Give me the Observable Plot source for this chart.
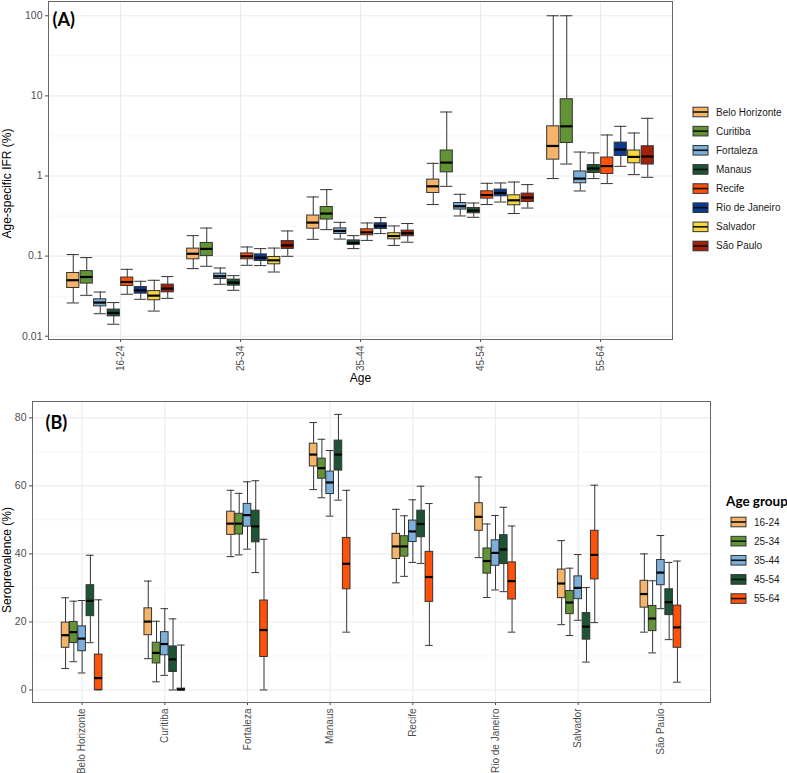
<!DOCTYPE html>
<html><head><meta charset="utf-8">
<script src="https://cdn.jsdelivr.net/npm/d3@7"></script>
<script src="https://cdn.jsdelivr.net/npm/@observablehq/plot@0.6"></script>
<style>
body{margin:0;background:#fff;}
#wrap{position:relative;width:787px;height:773px;overflow:hidden;background:#fff;}
#wrap svg{display:block;}
</style></head><body><div id="wrap"></div>
<script>
// ---------- categories ----------
const ageGroups = ["16-24", "25-34", "35-44", "45-54", "55-64"];
const cities = ["Belo Horizonte", "Curitiba", "Fortaleza", "Manaus", "Recife", "Rio de Janeiro", "Salvador", "São Paulo"];
const cityColors = ["#F6B46A", "#629436", "#7DAFDB", "#1D5434", "#FF5108", "#0C3B94", "#F4D73F", "#A3200C"];
const ageColors = ["#F6B46A", "#629436", "#7DAFDB", "#1D5434", "#FF5108"];

// ---------- Panel A: age-specific IFR (%) ----------
// each row: [lower whisker, Q1, median, Q3, upper whisker], one row per city (order of `cities`)
const ifr16_24 = [
  [0.026, 0.040, 0.050, 0.0615, 0.1045],
  [0.0324, 0.0454, 0.0548, 0.065, 0.0958],
  [0.0191, 0.0236, 0.0263, 0.0289, 0.0356],
  [0.0141, 0.0177, 0.0195, 0.0215, 0.0263],
  [0.0334, 0.0424, 0.0475, 0.054, 0.0684],
  [0.0289, 0.034, 0.0374, 0.0411, 0.0485],
  [0.0206, 0.0281, 0.0321, 0.0366, 0.0499],
  [0.0297, 0.0353, 0.0393, 0.0441, 0.0555]
];
const ifr25_34 = [
  [0.0698, 0.0912, 0.107, 0.124, 0.180],
  [0.0746, 0.100, 0.123, 0.146, 0.224],
  [0.0445, 0.0518, 0.056, 0.0604, 0.071],
  [0.0374, 0.0428, 0.0467, 0.0509, 0.057],
  [0.0768, 0.0912, 0.0994, 0.108, 0.130],
  [0.0761, 0.0869, 0.0958, 0.105, 0.124],
  [0.0633, 0.079, 0.0886, 0.0975, 0.126],
  [0.0994, 0.123, 0.136, 0.154, 0.206]
];
const ifr35_44 = [
  [0.162, 0.220, 0.262, 0.321, 0.547],
  [0.214, 0.286, 0.340, 0.410, 0.676],
  [0.163, 0.189, 0.206, 0.222, 0.264],
  [0.124, 0.138, 0.146, 0.157, 0.180],
  [0.157, 0.182, 0.198, 0.216, 0.259],
  [0.191, 0.218, 0.238, 0.257, 0.303],
  [0.136, 0.162, 0.178, 0.193, 0.238],
  [0.149, 0.177, 0.193, 0.208, 0.255]
];
const ifr45_54 = [
  [0.44, 0.614, 0.743, 0.902, 1.44],
  [0.743, 1.11, 1.47, 2.08, 6.29],
  [0.317, 0.381, 0.419, 0.46, 0.591],
  [0.305, 0.342, 0.37, 0.398, 0.46],
  [0.44, 0.522, 0.579, 0.644, 0.811],
  [0.473, 0.558, 0.614, 0.676, 0.818],
  [0.34, 0.431, 0.497, 0.574, 0.841],
  [0.398, 0.473, 0.537, 0.603, 0.781]
];
const ifr55_64 = [
  [0.928, 1.60, 2.37, 4.17, 100],
  [1.41, 2.58, 4.17, 9.07, 100],
  [0.65, 0.811, 0.928, 1.14, 1.99],
  [0.928, 1.09, 1.24, 1.37, 1.94],
  [0.804, 1.06, 1.33, 1.70, 3.25],
  [1.32, 1.78, 2.14, 2.61, 4.17],
  [1.04, 1.44, 1.73, 2.08, 3.44],
  [0.963, 1.39, 1.75, 2.35, 5.25]
];
const ifrTicks = [0.01, 0.1, 1, 10, 100];
const ifrMinor = [0.03162, 0.3162, 3.162, 31.62];

// ---------- Panel B: seroprevalence (%) ----------
// each row: [lower whisker, Q1, median, Q3, upper whisker], one row per age group
const seroBeloHorizonte = [
  [6.3, 12.4, 16.1, 19.8, 27.1],
  [8.3, 13.8, 17.0, 20.0, 26.1],
  [5.0, 11.4, 15.1, 18.7, 26.3],
  [13.9, 21.7, 26.2, 30.8, 39.6],
  [0, 0, 3.5, 10.4, 26.5]
];
const seroCuritiba = [
  [9.2, 16.1, 20.1, 24.0, 32.0],
  [2.4, 7.8, 10.9, 13.9, 20.2],
  [4.3, 10.2, 13.5, 17.0, 23.9],
  [0, 5.3, 9.0, 12.8, 20.9],
  [0, 0, 0.15, 0.4, 13.2]
];
const seroFortaleza = [
  [39.2, 45.6, 48.9, 52.4, 58.7],
  [39.7, 45.7, 48.9, 51.8, 57.8],
  [41.4, 48.0, 51.4, 54.7, 61.2],
  [34.5, 43.4, 48.1, 52.7, 61.5],
  [0, 9.7, 17.6, 26.3, 44.3]
];
const seroManaus = [
  [58.9, 65.7, 69.2, 72.4, 78.6],
  [56.5, 62.1, 65.2, 68.0, 73.7],
  [51.1, 57.6, 61.0, 64.2, 70.4],
  [55.8, 64.5, 69.2, 73.3, 81.0],
  [17.0, 29.6, 37.1, 44.7, 58.7]
];
const seroRecife = [
  [31.5, 38.5, 42.2, 45.9, 53.1],
  [33.4, 39.2, 42.2, 45.2, 51.2],
  [37.5, 43.5, 46.6, 49.8, 55.9],
  [37.2, 44.9, 48.8, 52.7, 59.9],
  [13.1, 25.9, 33.2, 40.6, 54.8]
];
const seroRioDeJaneiro = [
  [38.9, 46.8, 50.9, 54.9, 62.6],
  [27.2, 34.2, 37.9, 41.6, 48.8],
  [29.4, 36.5, 40.3, 44.0, 51.3],
  [28.9, 37.0, 41.3, 45.5, 53.7],
  [17.0, 26.6, 32.0, 37.5, 48.2]
];
const seroSalvador = [
  [19.2, 27.0, 31.3, 35.4, 43.9],
  [16.0, 22.3, 25.7, 29.1, 35.8],
  [20.5, 26.7, 30.0, 33.4, 39.8],
  [8.2, 14.8, 18.6, 22.6, 30.1],
  [19.8, 32.5, 39.7, 46.8, 60.2]
];
const seroSaoPaulo = [
  [17.0, 24.2, 28.2, 32.1, 40.0],
  [10.9, 17.3, 21.0, 24.7, 32.1],
  [23.9, 30.8, 34.5, 38.2, 45.4],
  [14.8, 22.0, 25.8, 29.6, 37.5],
  [2.3, 12.4, 18.4, 24.8, 37.9]
];
const seroTicks = [0, 20, 40, 60, 80];
const seroMinor = [10, 30, 50, 70];

// ---------- build tables ----------
const toStats = s => ({lo: s[0], q1: s[1], med: s[2], q3: s[3], hi: s[4]});
const ifrRows = [ifr16_24, ifr25_34, ifr35_44, ifr45_54, ifr55_64]
  .flatMap((rows, a) => rows.map((s, c) => ({age: a, city: c, ...toStats(s)})));
const seroRows = [seroBeloHorizonte, seroCuritiba, seroFortaleza, seroManaus, seroRecife, seroRioDeJaneiro, seroSalvador, seroSaoPaulo]
  .flatMap((rows, c) => rows.map((s, a) => ({age: a, city: c, ...toStats(s)})));

const FONT = "'Liberation Sans', Arial, sans-serif";
const BOLD = "Lato, 'Open Sans', 'Liberation Sans', sans-serif";
const GRID = "#ebebeb";
const INK = "#333333";

function boxMarks(rows, xc, hw, colorOf) {
  const x1 = d => xc(d) - hw, x2 = d => xc(d) + hw;
  return [
    Plot.ruleX(rows, {x: xc, y1: "lo", y2: "hi", stroke: INK, strokeWidth: 1}),
    Plot.ruleY(rows, {y: "lo", x1, x2, stroke: INK, strokeWidth: 1}),
    Plot.ruleY(rows, {y: "hi", x1, x2, stroke: INK, strokeWidth: 1}),
    Plot.rect(rows, {x1, x2, y1: "q1", y2: "q3", fill: colorOf, stroke: INK, strokeWidth: 1}),
    Plot.ruleY(rows, {y: "med", x1, x2, stroke: "#000", strokeWidth: 2.2})
  ];
}

function addLegend(svg, names, colors, x0, y0, step, title) {
  const g = d3.select(svg).append("g").attr("text-anchor", "start");
  if (title) {
    g.append("text").attr("x", title.x).attr("y", title.y).text(title.text)
      .attr("text-anchor", "start")
      .attr("font-family", BOLD).attr("font-weight", 700).attr("font-size", 13.5).attr("fill", "#000");
  }
  names.forEach((name, i) => {
    const cy = y0 + i * step;
    g.append("rect").attr("x", x0).attr("y", cy - 4.8).attr("width", 15).attr("height", 9.6)
      .attr("fill", colors[i]).attr("stroke", INK).attr("stroke-width", 1);
    g.append("line").attr("x1", x0).attr("x2", x0 + 15).attr("y1", cy).attr("y2", cy)
      .attr("stroke", "#111").attr("stroke-width", 1.6);
    g.append("text").attr("x", x0 + 23).attr("y", cy).attr("dy", "0.35em").text(name)
      .attr("text-anchor", "start")
      .attr("font-family", FONT).attr("font-size", 10).attr("fill", "#1a1a1a");
  });
}

// ---------- Panel A ----------
const xA = d => d.age + 1 + (d.city - 3.5) * 0.1125;
const plotA = Plot.plot({
  width: 787, height: 392,
  marginLeft: 48, marginRight: 115, marginTop: 1, marginBottom: 53,
  style: {fontFamily: FONT, fontSize: "10px", color: "#4d4d4d", background: "#fff"},
  x: {type: "linear", domain: [0.4, 5.6]},
  y: {type: "log", domain: [0.0091, 150.7]},
  marks: [
    Plot.ruleY(ifrMinor, {stroke: "#f2f2f2", strokeWidth: 0.7}),
    Plot.ruleY(ifrTicks, {stroke: GRID, strokeWidth: 1.1}),
    Plot.ruleX(d3.range(1, ageGroups.length + 1), {stroke: GRID, strokeWidth: 1.1}),
    Plot.axisY({ticks: ifrTicks, tickFormat: d => String(d), tickSize: 3, tickPadding: 3, label: null, fontSize: 10.5}),
    Plot.axisX({ticks: d3.range(1, ageGroups.length + 1), tickFormat: i => ageGroups[i - 1], tickRotate: -90, tickSize: 3, tickPadding: 3, label: null}),
    ...boxMarks(ifrRows, xA, 0.0506, d => cityColors[d.city]),
    Plot.frame({stroke: "#666", strokeWidth: 1}),
    Plot.text(["(A)"], {frameAnchor: "top-left", dx: 4, dy: 12, text: d => d, fontFamily: BOLD, fontWeight: 700, fontSize: 18, fill: "#000", textAnchor: "start"}),
    Plot.text(["Age-specific IFR (%)"], {frameAnchor: "left", dx: -41, dy: 13, rotate: -90, textAnchor: "middle", text: d => d, fontSize: 12, fill: "#000"}),
    Plot.text(["Age"], {frameAnchor: "bottom", dy: 42, textAnchor: "middle", text: d => d, fontSize: 12, fill: "#000"})
  ]
});
addLegend(plotA, cities, cityColors, 693, 112, 19.14, null);

// ---------- Panel B ----------
const xB = d => d.city + 1 + (d.age - 2) * 0.1;
const plotB = Plot.plot({
  width: 787, height: 381,
  marginLeft: 32, marginRight: 77, marginTop: 9, marginBottom: 71,
  style: {fontFamily: FONT, fontSize: "10px", color: "#4d4d4d", background: "#fff"},
  x: {type: "linear", domain: [0.4, 8.6]},
  y: {type: "linear", domain: [-3.68, 84.8]},
  marks: [
    Plot.ruleY(seroMinor, {stroke: "#f2f2f2", strokeWidth: 0.7}),
    Plot.ruleY(seroTicks, {stroke: GRID, strokeWidth: 1.1}),
    Plot.ruleX(d3.range(1, cities.length + 1), {stroke: GRID, strokeWidth: 1.1}),
    Plot.axisY({ticks: seroTicks, tickSize: 3, tickPadding: 3, label: null, fontSize: 10.5}),
    Plot.axisX({ticks: d3.range(1, cities.length + 1), tickFormat: i => cities[i - 1], tickRotate: -90, tickSize: 3, tickPadding: 3, label: null}),
    ...boxMarks(seroRows, xB, 0.046, d => ageColors[d.age]),
    Plot.frame({stroke: "#666", strokeWidth: 1}),
    Plot.text(["(B)"], {frameAnchor: "top-left", dx: 13, dy: 15, text: d => d, fontFamily: BOLD, fontWeight: 700, fontSize: 18, fill: "#000", textAnchor: "start"}),
    Plot.text(["Seroprevalence (%)"], {frameAnchor: "left", dx: -25, dy: 8, rotate: -90, textAnchor: "middle", text: d => d, fontSize: 12, fill: "#000"})
  ]
});
addLegend(plotB, ageGroups, ageColors, 731, 130, 19.14, {text: "Age group", x: 726, y: 114});

const wrap = document.getElementById("wrap");
wrap.appendChild(plotA);
wrap.appendChild(plotB);
</script>
</body></html>
